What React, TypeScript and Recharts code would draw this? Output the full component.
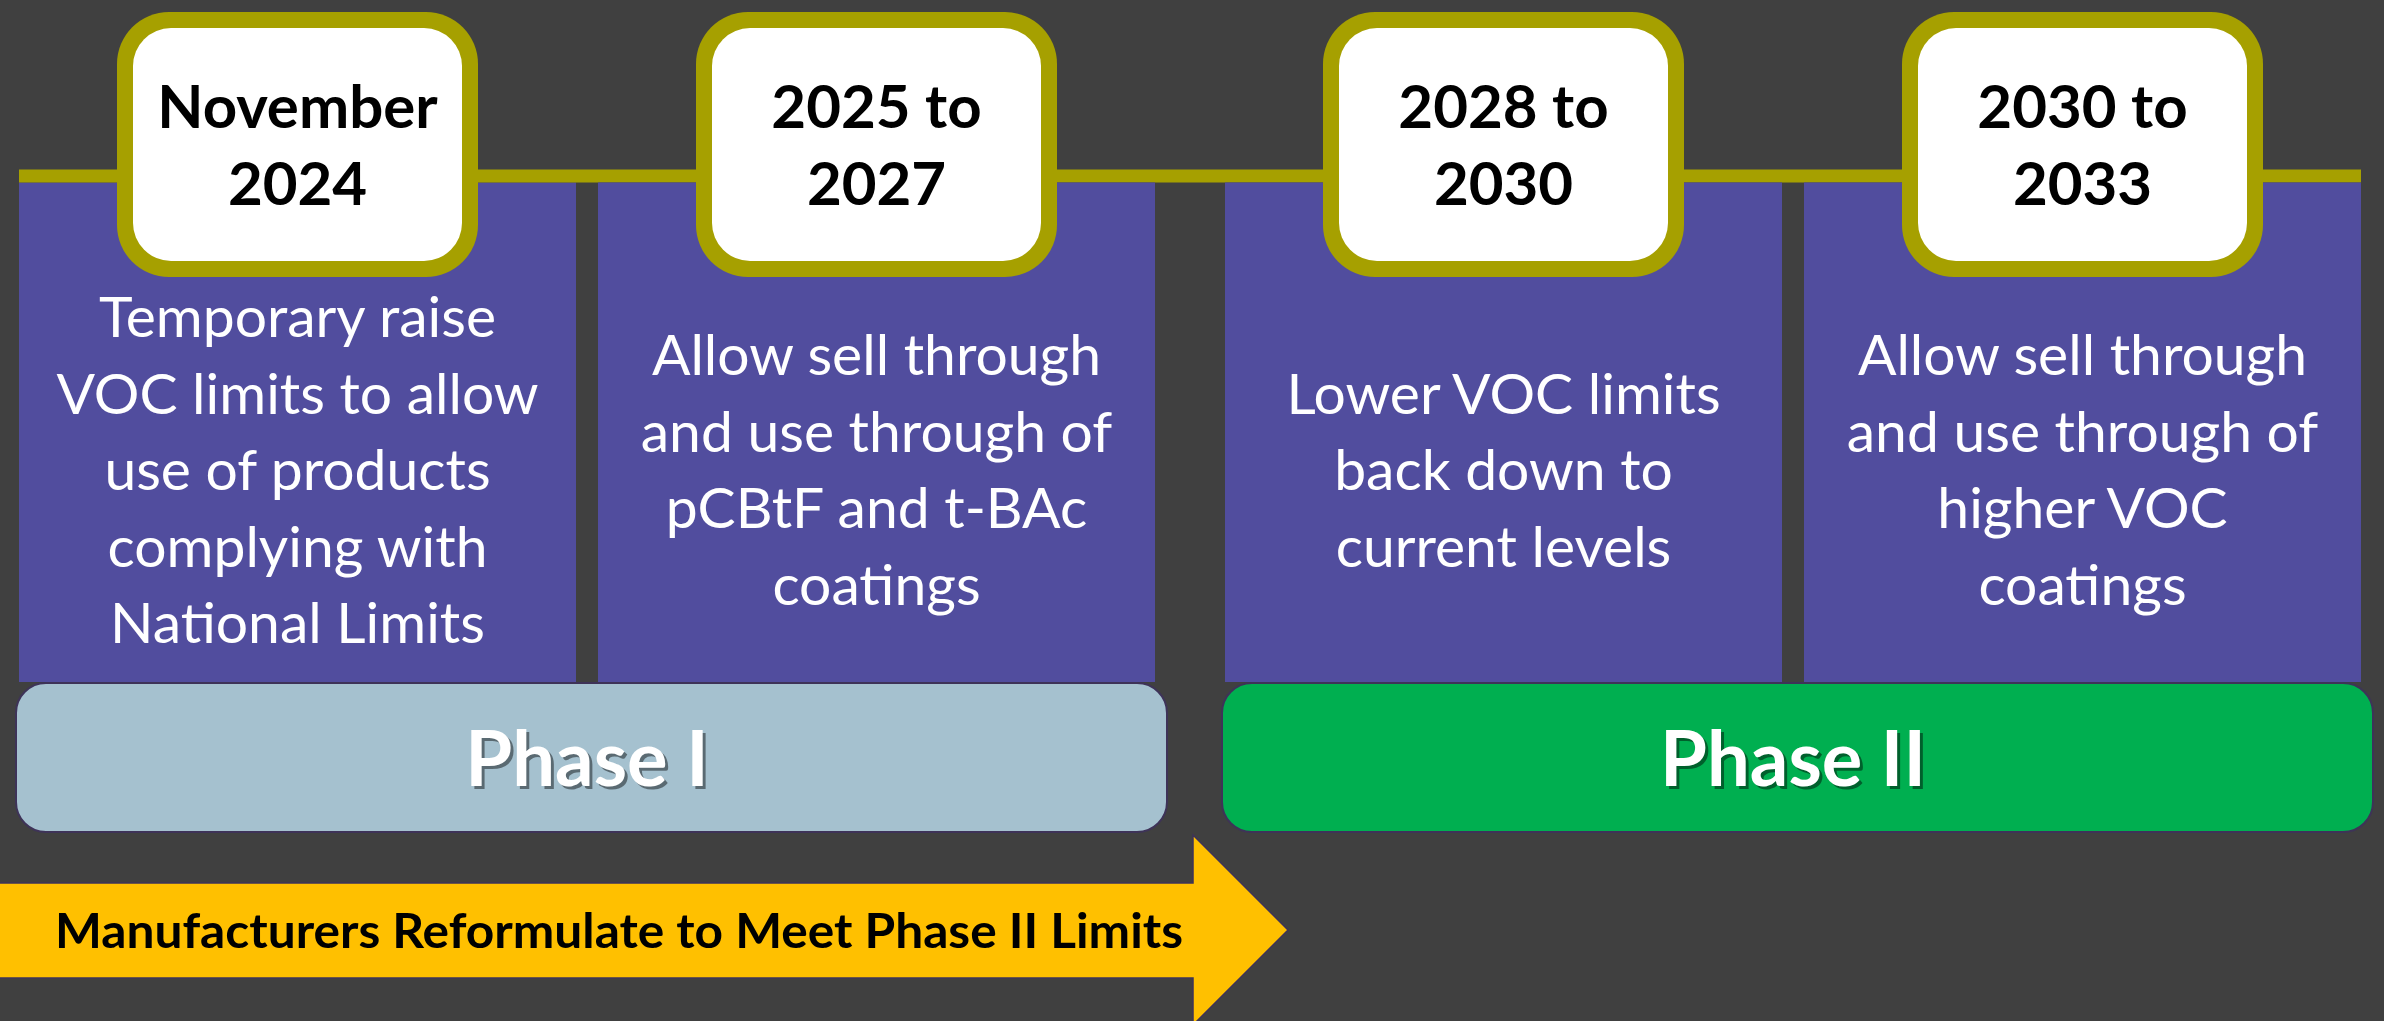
import { BarChart, Bar, XAxis, YAxis } from "recharts";

// timeline content
const phases = ["Phase I", "Phase II"];
const phaseColors = ["#A5C1CF", "#00AF50"];
const milestoneDates = [
  ["November", "2024"],
  ["2025 to", "2027"],
  ["2028 to", "2030"],
  ["2030 to", "2033"],
];
const milestoneNotes = [
  ["Temporary raise", "VOC limits to allow", "use of products", "complying with", "National Limits"],
  ["Allow sell through", "and use through of", "pCBtF and t-BAc", "coatings"],
  ["Lower VOC limits", "back down to", "current levels"],
  ["Allow sell through", "and use through of", "higher VOC", "coatings"],
];
// each milestone panel covers the whole band (two milestones per phase)
const earlySpan = [1, 1];
const lateSpan = [1, 1];
const arrowLabel = "Manufacturers Reformulate to Meet Phase II Limits";

const data = phases.map((phase, i) => ({
  phase,
  early: earlySpan[i],
  late: lateSpan[i],
}));

const W = 2384;
const H = 1021;
const MARGIN = { top: 176, right: -12, bottom: 0, left: -16 };
const BAR = 557;
const GAP = 22;
const BAND = (W - MARGIN.left - MARGIN.right) / phases.length;
const LINE = 13;
const FONT = "Lato, 'Noto Sans', sans-serif";

const OLIVE = "#A6A000";
const PURPLE = "#514D9E";
const EDGE = "#3E3358";

const makePanel = (slot: number) => (props: any) => {
  const { x, y, width, height, index } = props;
  const m = index * 2 + slot;
  const cx = x + width / 2;
  const boxTop = y - 164;
  const notes = milestoneNotes[m];
  const mid = y + height - 192;
  const lineLen = (phases.length - 1) * BAND + 2 * BAR + GAP;
  return (
    <g>
      <rect x={x} y={y + LINE / 2} width={width} height={height - LINE / 2} fill={PURPLE} />
      {m === 0 && (
        <rect x={x} y={y - LINE / 2} width={lineLen} height={LINE} fill={OLIVE} />
      )}
      <rect x={cx - 180.5} y={boxTop} width={361} height={265} rx={52} fill={OLIVE} />
      <rect x={cx - 164.5} y={boxTop + 16} width={329} height={233} rx={38} fill="#fff" />
      {milestoneDates[m].map((t, i) => (
        <text
          key={i}
          x={cx}
          y={boxTop + 116 + i * 77}
          textAnchor="middle"
          fontFamily={FONT}
          fontWeight="bold"
          fontSize={60}
          fill="#000"
        >
          {t}
        </text>
      ))}
      {notes.map((t, i) => (
        <text
          key={i}
          x={cx}
          y={mid + (i - (notes.length - 1) / 2) * 76.5}
          textAnchor="middle"
          fontFamily={FONT}
          fontSize={57}
          fill="#fff"
        >
          {t}
        </text>
      ))}
    </g>
  );
};

const PhaseTick = (props: any) => {
  const { x, y, payload, index } = props;
  return (
    <g>
      <rect
        x={x - 571}
        y={y + 1}
        width={1151}
        height={149}
        rx={30}
        fill={phaseColors[index]}
        stroke={EDGE}
        strokeWidth={2}
      />
      <text
        x={x + 3}
        y={y + 107}
        textAnchor="middle"
        fontFamily={FONT}
        fontWeight="bold"
        fontSize={76}
        fill="rgba(0,0,0,0.45)"
      >
        {payload.value}
      </text>
      <text
        x={x}
        y={y + 104}
        textAnchor="middle"
        fontFamily={FONT}
        fontWeight="bold"
        fontSize={76}
        fill="#fff"
      >
        {payload.value}
      </text>
      {index === 0 && (
        <g>
          <polygon
            points={[
              [x - 620, y + 201],
              [x + 606, y + 201],
              [x + 606, y + 153],
              [x + 701, y + 248],
              [x + 606, y + 343],
              [x + 606, y + 296],
              [x - 620, y + 296],
            ]
              .map((p) => p.join(","))
              .join(" ")}
            fill="#FFC000"
            stroke={EDGE}
            strokeWidth={1.5}
          />
          <text
            x={x - 532}
            y={y + 266}
            fontFamily={FONT}
            fontWeight="bold"
            fontSize={48}
            textLength={1128}
            lengthAdjust="spacingAndGlyphs"
            fill="#000"
          >
            {arrowLabel}
          </text>
        </g>
      )}
    </g>
  );
};

export default function App() {
  return (
    <div style={{ position: "absolute", left: 0, top: 0, width: W, height: H, background: "#404040" }}>
      <BarChart width={W} height={H} data={data} margin={MARGIN} barGap={GAP}>
        <XAxis
          dataKey="phase"
          height={339}
          axisLine={false}
          tickLine={false}
          tickSize={0}
          tickMargin={0}
          interval={0}
          tick={PhaseTick}
        />
        <YAxis hide domain={[0, 1]} />
        <Bar dataKey="early" barSize={BAR} shape={makePanel(0)} isAnimationActive={false} />
        <Bar dataKey="late" barSize={BAR} shape={makePanel(1)} isAnimationActive={false} />
      </BarChart>
    </div>
  );
}
